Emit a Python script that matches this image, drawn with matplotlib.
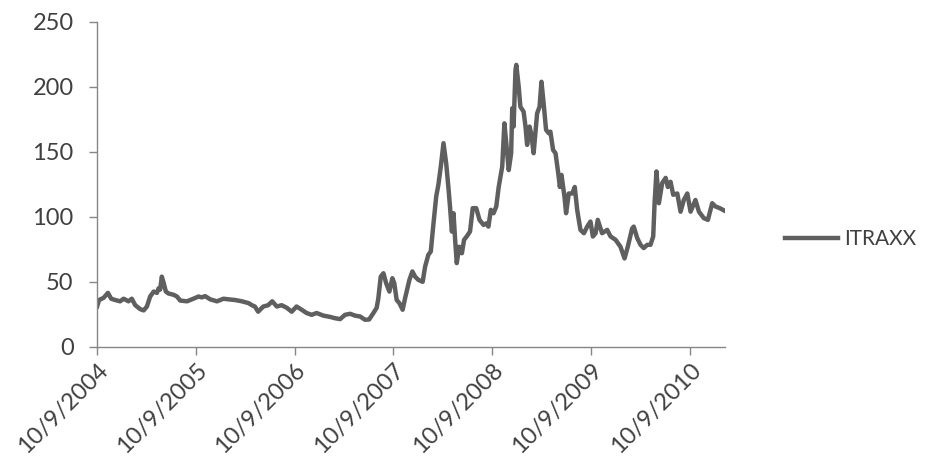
import pandas as pd
import matplotlib
matplotlib.use("Agg")
import matplotlib.pyplot as plt

# iTraxx index level, sampled dates
dates = [
    "2004-10-09", "2004-10-16", "2004-11-02", "2004-11-18", "2004-11-30", "2004-12-15",
    "2005-01-02", "2005-01-15", "2005-02-02", "2005-02-14", "2005-02-27", "2005-03-17",
    "2005-03-30", "2005-04-11", "2005-04-23", "2005-05-06", "2005-05-18", "2005-05-24",
    "2005-05-30", "2005-06-05", "2005-06-12", "2005-06-20", "2005-06-30", "2005-07-19",
    "2005-07-31", "2005-08-12", "2005-09-06", "2005-09-24",
    "2005-10-19", "2005-10-31", "2005-11-12", "2005-12-01", "2005-12-26", "2006-01-19",
    "2006-02-07", "2006-03-03", "2006-03-28", "2006-04-22", "2006-05-04", "2006-05-15",
    "2006-05-27", "2006-06-15", "2006-07-03", "2006-07-18", "2006-08-04", "2006-08-22",
    "2006-09-10", "2006-09-28",
    "2006-10-16", "2006-11-04", "2006-11-22", "2006-12-11", "2006-12-29", "2007-01-23",
    "2007-02-17", "2007-03-07", "2007-03-26", "2007-04-13", "2007-05-02", "2007-05-20",
    "2007-06-08", "2007-06-26", "2007-07-11", "2007-07-27", "2007-08-08", "2007-08-14",
    "2007-08-23", "2007-09-02", "2007-09-12", "2007-09-24", "2007-10-05",
    "2007-10-12", "2007-10-21", "2007-10-31", "2007-11-12", "2007-11-21", "2007-12-07",
    "2007-12-18", "2007-12-28", "2008-01-09", "2008-01-25", "2008-02-03", "2008-02-15",
    "2008-02-24", "2008-03-05", "2008-03-15", "2008-03-23", "2008-04-01", "2008-04-11",
    "2008-04-21", "2008-04-29", "2008-05-05", "2008-05-12", "2008-05-18", "2008-05-24",
    "2008-05-30", "2008-06-08", "2008-06-18", "2008-06-26", "2008-07-06", "2008-07-18",
    "2008-07-28", "2008-08-10", "2008-08-22", "2008-09-06", "2008-09-16", "2008-09-24",
    "2008-10-03",
    "2008-10-13", "2008-10-23", "2008-11-01", "2008-11-14", "2008-11-22", "2008-11-29",
    "2008-12-08", "2008-12-17", "2008-12-21", "2008-12-26", "2009-01-02", "2009-01-05",
    "2009-01-14", "2009-01-20", "2009-02-01", "2009-02-08", "2009-02-14", "2009-02-23",
    "2009-03-02", "2009-03-10", "2009-03-23", "2009-04-01", "2009-04-08", "2009-04-16",
    "2009-04-25", "2009-05-05", "2009-05-11", "2009-05-21", "2009-05-30", "2009-06-09",
    "2009-06-15", "2009-06-21", "2009-07-02", "2009-07-08", "2009-07-18", "2009-07-31",
    "2009-08-09", "2009-08-18", "2009-08-30", "2009-09-12", "2009-09-24", "2009-10-06",
    "2009-10-15", "2009-10-25", "2009-11-02", "2009-11-18", "2009-12-07", "2009-12-19",
    "2010-01-07", "2010-01-25", "2010-02-09", "2010-02-21", "2010-03-09", "2010-03-15",
    "2010-03-28", "2010-04-09", "2010-04-21", "2010-05-04", "2010-05-16", "2010-05-26",
    "2010-05-31", "2010-06-07", "2010-06-16", "2010-06-28", "2010-07-11", "2010-07-19",
    "2010-07-29", "2010-08-08", "2010-08-23", "2010-09-04", "2010-09-16", "2010-09-29",
    "2010-10-11", "2010-10-29", "2010-11-11", "2010-11-29", "2010-12-14", "2010-12-30",
    "2011-01-11", "2011-01-27", "2011-02-11",
]
itraxx = [
    31, 36, 37.7, 41.5, 37, 36,
    35, 37, 35, 37, 32, 29,
    28, 31, 38.7, 42.5, 41.5, 45,
    44, 54, 49, 42.5, 41, 40,
    38.7, 35.6, 35, 36.5,
    38.7, 38, 39, 36.5, 35, 37,
    36.5, 36, 35, 33.6, 32, 31,
    27, 31, 32, 35, 31, 32,
    30, 27,
    31, 28.5, 26, 24.6, 26, 24,
    23, 22, 21.3, 24.6, 25.4, 24,
    23.3, 20.8, 21, 26, 30, 37,
    54, 56.6, 49, 42.5, 52.8,
    49, 36, 33.6, 28.5, 37.4, 51.5,
    58, 54, 51.5, 50, 61.7, 70.8,
    73.3, 95, 115.6, 124.6, 138.7, 156.7,
    141, 123, 108, 88.7, 102.8, 82.3,
    64.4, 77, 72, 82.3, 85, 88.7,
    106.7, 106.7, 97.7, 93.8, 95, 92.5,
    105.4,
    102.8, 108, 123, 138.7, 172, 156.7,
    136, 149, 183.6, 169.5, 213, 217,
    200, 184.8, 181, 169.5, 155.4, 169.5,
    163, 149, 179.7, 184.8, 204, 187.4,
    167, 164.4, 165.6, 151.5, 149, 133.6,
    123, 132.3, 115.6, 102.8, 118, 118,
    123, 105.4, 90, 87.4, 92.5, 96.4,
    84.9, 87.4, 97.7, 87.4, 90, 85,
    82.3, 77, 68, 77, 91, 92.5,
    83.6, 78.5, 76, 78.5, 78.5, 85,
    110.5, 135, 110.5, 126, 130, 123,
    127, 117, 118, 104, 113, 118,
    104, 113, 104, 99, 97.7, 110.5,
    108, 106.7, 105,
]
tick_dates = ["2004-10-09", "2005-10-09", "2006-10-09", "2007-10-09",
              "2008-10-09", "2009-10-09", "2010-10-09"]

plt.rcParams["font.family"] = ["Lato", "DejaVu Sans"]
axis_grey = "#868686"
text_grey = "#404040"

x = pd.to_datetime(dates)
ticks = pd.to_datetime(tick_dates)

fig = plt.figure(figsize=(9.25, 4.68), dpi=100)
ax = fig.add_axes([0.105, 0.259, 0.679, 0.694])
ax.plot(x, itraxx, color="#5f5f5f", linewidth=3.2, solid_joinstyle="round", label="ITRAXX")

ax.set_xlim(ticks[0], x[-1] + pd.Timedelta(days=5))
ax.set_ylim(0, 250)
ax.set_yticks([0, 50, 100, 150, 200, 250])
ax.set_xticks(ticks)
ax.set_xticklabels([d.strftime("%-m/%-d/%Y") for d in ticks], rotation=45,
                   ha="right", va="top", rotation_mode="anchor")

for side in ["top", "right"]:
    ax.spines[side].set_visible(False)
for side in ["left", "bottom"]:
    ax.spines[side].set_color(axis_grey)
    ax.spines[side].set_linewidth(1.0)
ax.tick_params(axis="both", direction="out", length=6, width=1.0, color=axis_grey,
               labelsize=17, labelcolor=text_grey, pad=3)
ax.tick_params(axis="y", pad=11)

fig.legend(loc="center left", bbox_to_anchor=(0.828, 0.489), frameon=False,
           fontsize=15, handlelength=2.55, handletextpad=0.3, labelcolor=text_grey)

fig.savefig("out.png", dpi=100)
